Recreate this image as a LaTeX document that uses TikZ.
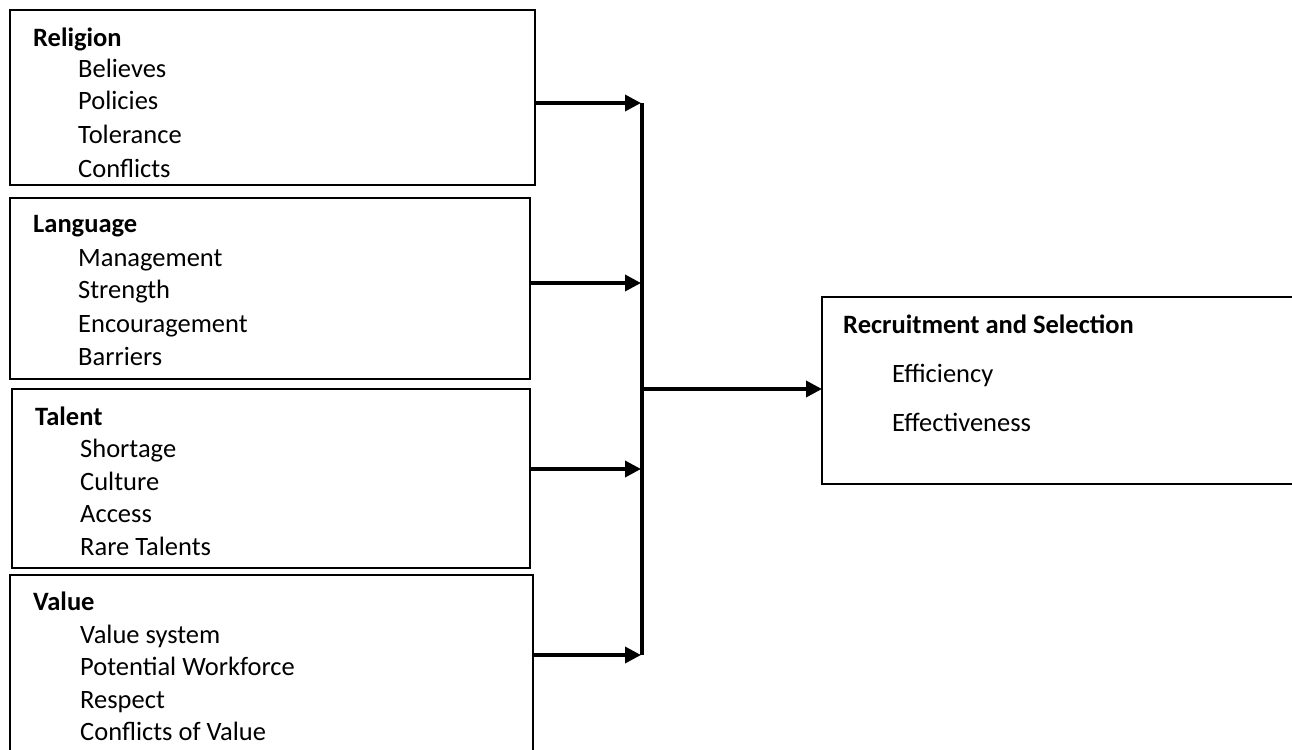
\documentclass[tikz,border=0pt]{standalone}
\usepackage{fontspec}
\setmainfont{Carlito}
\usetikzlibrary{arrows.meta}
\begin{document}
\begin{tikzpicture}[x=1pt,y=-1pt,
  box/.style={draw,line width=1.5pt,rectangle,anchor=north west,inner sep=0pt,outer sep=0pt},
  head/.style={anchor=base west,inner sep=0pt,font=\fontsize{26.5}{30}\selectfont\bfseries},
  item/.style={anchor=base west,inner sep=0pt,font=\fontsize{26.5}{30}\selectfont},
  conn/.style={line width=3.5pt,-{Triangle[length=16pt,width=16pt]}},
  bar/.style={line width=4pt}]
\useasboundingbox (0,0) rectangle (1292,749);
\clip (0,0) rectangle (1292,749);
% boxes
\node[box,minimum width=525pt,minimum height=175pt] (rel) at (10,10) {};
\node[box,minimum width=520pt,minimum height=181pt] (lang) at (10,198) {};
\node[box,minimum width=518pt,minimum height=179pt] (tal) at (12,389) {};
\node[box,minimum width=523pt,minimum height=200pt] (val) at (10,575) {};
\node[box,minimum width=520pt,minimum height=187pt] (rec) at (822,297) {};
% texts: Religion
\node[head] (relh) at (33,47) {Religion};
\node[item] (rel1) at (78,78) {Believes};
\node[item] (rel2) at (78,110) {Policies};
\node[item] (rel3) at (78,143) {Tolerance};
\node[item] (rel4) at (78,177) {Conflicts};
% Language
\node[head] (langh) at (33,232) {Language};
\node[item] (lang1) at (78,266) {Management};
\node[item] (lang2) at (78,298) {Strength};
\node[item] (lang3) at (78,332) {Encouragement};
\node[item] (lang4) at (78,365) {Barriers};
% Talent
\node[head] (talh) at (35,425) {Talent};
\node[item] (tal1) at (80,457) {Shortage};
\node[item] (tal2) at (80,490) {Culture};
\node[item] (tal3) at (80,522) {Access};
\node[item] (tal4) at (80,555) {Rare Talents};
% Value
\node[head] (valh) at (33,610) {Value};
\node[item] (val1) at (80,643) {Value system};
\node[item] (val2) at (80,675) {Potential Workforce};
\node[item] (val3) at (80,708) {Respect};
\node[item] (val4) at (80,740) {Conflicts of Value};
% Recruitment
\node[head] (rech) at (843,333) {Recruitment and Selection};
\node[item] (rec1) at (892,382) {Efficiency};
\node[item] (rec2) at (892,431) {Effectiveness};
% bar
\coordinate (b1) at (642,103);
\coordinate (b2) at (642,283);
\coordinate (b3) at (642,469);
\coordinate (b4) at (642,655);
\coordinate (bm) at (642,389);
\draw[bar] (b1) -- (b4);
\draw[conn] (rel.east |- b1) -- ([xshift=-1pt]b1);
\draw[conn] (lang.east |- b2) -- ([xshift=-1pt]b2);
\draw[conn] (tal.east |- b3) -- ([xshift=-1pt]b3);
\draw[conn] (val.east |- b4) -- ([xshift=-1pt]b4);
\draw[conn] (bm) -- (rec.west |- bm);
\end{tikzpicture}
\end{document}
